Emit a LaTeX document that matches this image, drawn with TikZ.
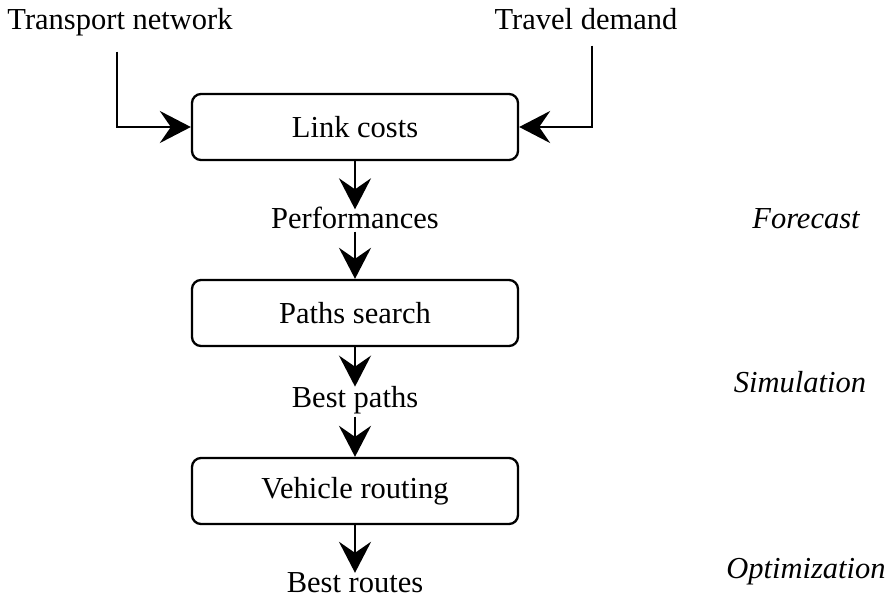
\documentclass[tikz,border=0pt]{standalone}
\usepackage{fontspec}
\setmainfont{Liberation Serif}
\usepackage{tikz}
\usetikzlibrary{arrows.meta}

\begin{document}
\begin{tikzpicture}[
    x=1pt, y=-1pt,
    flow/.style={line width=2.9pt, -{Stealth[length=31pt, width=32pt, inset=11pt]}},
    stage/.style={draw, line width=2.3pt, rounded corners=9pt, minimum width=326pt,
      minimum height=66pt, font=\fontsize{30.5}{36}\selectfont},
    item/.style={inner sep=3pt, font=\fontsize{30.5}{36}\selectfont},
    level/.style={inner sep=0pt, font=\fontsize{30.5}{36}\selectfont\itshape},
    every node/.style={color=black}
    ]
    \useasboundingbox (0,0) rectangle (892,600);

    % inputs
    \node[item, anchor=base] (network) at (120,29) {Transport network};
    \node[item, anchor=base] (demand) at (586,29) {Travel demand};

    % stages
    \node[stage] (costs) at (355,127) {Link costs};
    \node[stage] (search) at (355,313) {Paths search};
    \node[stage] (routing) at (355,491) {Vehicle routing};

    % results
    \node[item, anchor=base] (perf) at (355,228) {Performances};
    \node[item, anchor=base] (paths) at (355,407) {Best paths};
    \node[item, anchor=base] (routes) at (355,592) {Best routes};

    % levels
    \node[level, anchor=base] (forecast) at (806,228) {Forecast};
    \node[level, anchor=base] (simulation) at (800,392) {Simulation};
    \node[level, anchor=base] (optimization) at (806,578) {Optimization};

    % connectors
    \draw[flow, shorten <=13pt] ([xshift=-3pt]network.south) |- (costs.west);
    \draw[flow, shorten <=13pt] ([xshift=6pt]demand.south) |- (costs.east);
    \draw[flow] (costs.south) -- ([yshift=-6pt]perf.north);
    \draw[flow] (perf.south) -- (search.north);
    \draw[flow] (search.south) -- ([yshift=-4pt]paths.north);
    \draw[flow] (paths.south) -- (routing.north);
    \draw[flow] (routing.south) -- ([yshift=-4pt]routes.north);

\end{tikzpicture}
\end{document}
